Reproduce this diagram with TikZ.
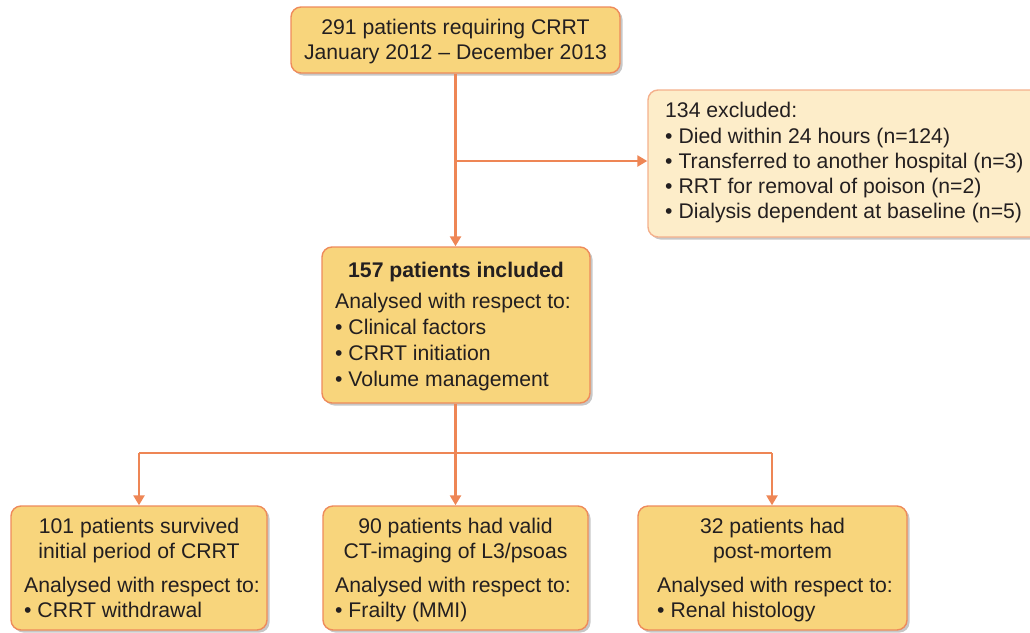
\documentclass[tikz,border=0pt]{standalone}
\usepackage{fontspec}
\setmainfont{Liberation Sans}
\usetikzlibrary{arrows.meta,shadows}
\definecolor{boxfill}{HTML}{F8D57C}
\definecolor{boxline}{HTML}{EE8B5B}
\definecolor{lightfill}{HTML}{FDEDC9}
\definecolor{lightline}{HTML}{F4B08C}
\definecolor{conn}{HTML}{EE8655}
\definecolor{txt}{HTML}{231F20}
\tikzset{
  box/.style={draw=boxline, fill=boxfill, line width=1.4pt, rounded corners=10pt,
    drop shadow={shadow xshift=2.5pt, shadow yshift=-2.5pt, opacity=0.22, fill=black},
    inner sep=0pt},
  lightbox/.style={box, draw=lightline, fill=lightfill},
  tl/.style={inner sep=0pt, text=txt, font=\fontsize{21.2}{25}\selectfont},
  tc/.style={tl, anchor=base},
  tw/.style={tl, anchor=base west},
  conline/.style={draw=conn, line width=2.4pt},
  arr/.style={conline, -{Triangle[width=11pt,length=10pt]}}
}
\begin{document}
\begin{tikzpicture}[x=1pt,y=-1pt]
\useasboundingbox (0,0) rectangle (1030,632);
\begin{scope}
\clip (0,0) rectangle (1030,632);
% boxes
\node[box, minimum width=329pt, minimum height=66pt] (top) at (455.5,40) {};
\node[lightbox, minimum width=392pt, minimum height=147pt] (excl) at (844,163.5) {};
\node[box, minimum width=268pt, minimum height=156pt] (mid) at (456,325) {};
\node[box, minimum width=256pt, minimum height=124pt] (b1) at (139,568) {};
\node[box, minimum width=265pt, minimum height=124pt] (b2) at (455.5,568) {};
\node[box, minimum width=269pt, minimum height=124pt] (b3) at (772.5,568) {};
\end{scope}
% connectors
\coordinate (br) at (455.5,161);
\coordinate (jn) at (455.5,453);
\coordinate (jl) at (139,453);
\coordinate (jr) at (772,453);
\draw[arr] (top.south) -- (top.south |- mid.north);
\draw[arr] (br) -- (br -| excl.west);
\draw[conline] (mid.south -| jn) -- (jn);
\draw[conline] (jl) -- (jr);
\draw[arr] (jl) -- (jl |- b1.north);
\draw[arr] (jn) -- (jn |- b2.north);
\draw[arr] (jr) -- (jr |- b3.north);
% top text
\node[tc] (t1) at (455.5,34) {291 patients requiring CRRT};
\node[tc] (t2) at (455.5,59) {January 2012 -- December 2013};
% excluded text
\node[tw] (e1) at (665,117) {134 excluded:};
\node[tw] (e2) at (665,143) {• Died within 24 hours (n=124)};
\node[tw] (e3) at (665,168) {• Transferred to another hospital (n=3)};
\node[tw] (e4) at (665,193) {• RRT for removal of poison (n=2)};
\node[tw] (e5) at (665,218) {• Dialysis dependent at baseline (n=5)};
% middle text
\node[tc, font=\fontsize{21.2}{25}\selectfont\bfseries] (m1) at (456,277) {157 patients included};
\node[tw] (m2) at (335,308) {Analysed with respect to:};
\node[tw] (m3) at (335,334) {• Clinical factors};
\node[tw] (m4) at (335,360) {• CRRT initiation};
\node[tw] (m5) at (335,386) {• Volume management};
% bottom left
\node[tc] (l1) at (139,533) {101 patients survived};
\node[tc] (l2) at (139,558) {initial period of CRRT};
\node[tw] (l3) at (24,592) {Analysed with respect to:};
\node[tw] (l4) at (24,617) {• CRRT withdrawal};
% bottom middle
\node[tc] (c1) at (455.5,533) {90 patients had valid};
\node[tc] (c2) at (455.5,558) {CT-imaging of L3/psoas};
\node[tw] (c3) at (335,592) {Analysed with respect to:};
\node[tw] (c4) at (335,617) {• Frailty (MMI)};
% bottom right
\node[tc] (r1) at (772.5,533) {32 patients had};
\node[tc] (r2) at (772.5,558) {post-mortem};
\node[tw] (r3) at (657,592) {Analysed with respect to:};
\node[tw] (r4) at (657,617) {• Renal histology};
\end{tikzpicture}
\end{document}
